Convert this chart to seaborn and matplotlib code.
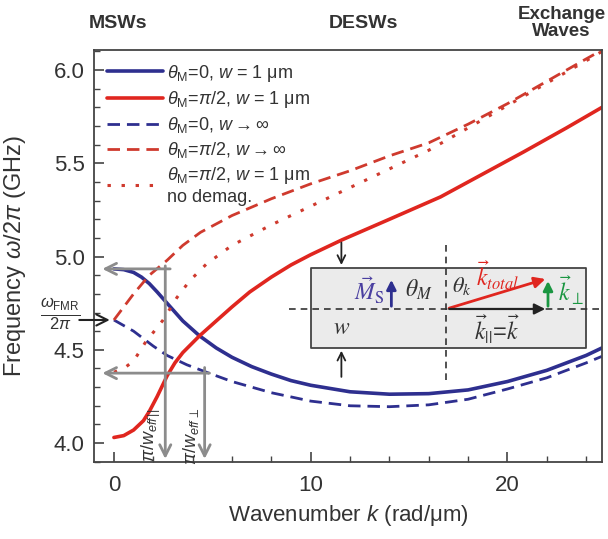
import numpy as np
import pandas as pd
import seaborn as sns
import matplotlib
matplotlib.use("Agg")
from matplotlib import pyplot as plt
from matplotlib.ticker import MultipleLocator

#### values (k in rad/um, f in GHz)
k_blue_w1 = [0, 0.5, 1, 1.4, 1.8, 2.2, 2.7, 3.5, 4.35, 5.2, 6, 7, 8, 9, 10, 12, 14, 16, 18, 20, 22, 24, 24.8]
f_blue_w1 = [4.934, 4.93, 4.915, 4.89, 4.855, 4.81, 4.75, 4.655, 4.575, 4.51, 4.46, 4.41, 4.37,
             4.335, 4.31, 4.275, 4.262, 4.265, 4.285, 4.33, 4.39, 4.47, 4.51]

k_blue_inf = [0, 1, 2, 2.7, 3.7, 4.7, 6, 7, 8, 10, 12, 14, 16, 18, 20, 22, 24, 24.8]
f_blue_inf = [4.66, 4.60, 4.52, 4.47, 4.42, 4.38, 4.33, 4.30, 4.27, 4.225, 4.20, 4.195,
              4.205, 4.235, 4.29, 4.35, 4.43, 4.465]

k_red_w1 = [0, 0.5, 1, 1.5, 1.8, 2.2, 2.7, 3.1, 3.5, 4.35, 5.2, 6, 6.9, 8, 9, 10, 11.6, 14, 16.6, 18, 20.8, 23, 24.8]
f_red_w1 = [4.03, 4.04, 4.07, 4.12, 4.17, 4.25, 4.36, 4.43, 4.485, 4.575, 4.655, 4.73, 4.81, 4.89,
            4.955, 5.01, 5.09, 5.20, 5.32, 5.40, 5.56, 5.69, 5.80]

k_red_inf = [0, 0.5, 1, 1.8, 2.7, 3.5, 4.4, 6, 8, 10, 12, 14, 16, 18, 20, 22, 24, 24.8]
f_red_inf = [4.66, 4.73, 4.80, 4.90, 4.98, 5.06, 5.13, 5.22, 5.31, 5.39, 5.46, 5.54, 5.61,
             5.71, 5.82, 5.94, 6.06, 6.107]

k_red_nodemag = [0, 0.5, 1, 1.6, 2.5, 3.2, 3.85, 4.7, 6, 8, 10, 12, 14, 16, 18, 20, 22, 24, 24.8]
f_red_nodemag = [4.38, 4.40, 4.44, 4.54, 4.66, 4.78, 4.87, 4.96, 5.06, 5.17, 5.27, 5.37, 5.47,
                 5.57, 5.69, 5.81, 5.93, 6.05, 6.10]

labels = [r"$\theta_\mathrm{M}$=0, $w$ = 1 μm",
          r"$\theta_\mathrm{M}$=$\pi$/2, $w$ = 1 μm",
          r"$\theta_\mathrm{M}$=0, $w\rightarrow\infty$",
          r"$\theta_\mathrm{M}$=$\pi$/2, $w\rightarrow\infty$",
          r"$\theta_\mathrm{M}$=$\pi$/2, $w$ = 1 μm" + "\nno demag."]

f_fmr = 4.66
f_top = 4.934
f_bot = 4.375

sns.set_theme(style="ticks")
plt.rcParams['font.family'] = ['Liberation Sans', 'DejaVu Sans']
plt.rcParams['mathtext.fontset'] = 'custom'
plt.rcParams['mathtext.rm'] = 'Liberation Sans'
plt.rcParams['mathtext.it'] = 'Liberation Sans:italic'

navy = "#2e2f8f"
red = "#e0261f"
red2 = "#cf3a2e"
gray = "#8c8c8c"
txt = "#333333"

fig = plt.figure(figsize=(6.08, 5.39), dpi=100)
ax = fig.add_axes([0.155, 0.142, 0.835, 0.765])

sns.lineplot(x=k_blue_w1, y=f_blue_w1, ax=ax, color=navy, lw=2.6, label=labels[0])
sns.lineplot(x=k_red_w1, y=f_red_w1, ax=ax, color=red, lw=2.6, label=labels[1])
sns.lineplot(x=k_blue_inf, y=f_blue_inf, ax=ax, color=navy, lw=2.0, ls=(0, (4.5, 2.5)), label=labels[2])
sns.lineplot(x=k_red_inf, y=f_red_inf, ax=ax, color=red2, lw=2.0, ls=(0, (4.5, 2.5)), label=labels[3])
sns.lineplot(x=k_red_nodemag, y=f_red_nodemag, ax=ax, color=red2, lw=2.2, ls=(0, (1.1, 3.5)), label=labels[4])

ax.set_xlim(-1.0, 24.8)
ax.set_ylim(3.896, 6.107)
ax.xaxis.set_major_locator(MultipleLocator(10))
ax.xaxis.set_minor_locator(MultipleLocator(2))
ax.yaxis.set_major_locator(MultipleLocator(0.5))
ax.yaxis.set_minor_locator(MultipleLocator(0.1))
ax.tick_params(which='both', direction='in', colors='#444444', labelcolor=txt, labelsize=16)
ax.tick_params(axis='x', which='both', pad=9)
ax.tick_params(axis='y', which='both', pad=7)
ax.tick_params(which='major', length=7, width=1.2)
ax.tick_params(which='minor', length=4, width=1.0)
for s in ax.spines.values():
    s.set_color('#444444')
    s.set_linewidth(1.3)

ax.set_xlabel(r"Wavenumber $k$ (rad/μm)", fontsize=16, color=txt, labelpad=5)
ax.set_ylabel(r"Frequency $\omega$/2$\pi$ (GHz)", fontsize=17, color=txt)
ax.yaxis.set_label_coords(-0.13, 0.5)

leg = ax.legend(loc='upper left', frameon=False, fontsize=13, handlelength=3.1,
                handletextpad=0.25, labelspacing=0.28, borderaxespad=0.3)
for t in leg.get_texts():
    t.set_color(txt)

#### region labels above the plot
fig.text(0.194, 0.957, "MSWs", ha='center', va='center', fontsize=14, fontweight='bold', color=txt)
fig.text(0.597, 0.957, "DESWs", ha='center', va='center', fontsize=14, fontweight='bold', color=txt)
fig.text(0.996, 0.958, "Exchange\nWaves", ha='right', va='center', fontsize=13.5,
         fontweight='bold', color=txt, linespacing=1.0, multialignment='center')

#### grey construction arrows
arr = dict(arrowstyle='->', color=gray, lw=2, mutation_scale=20)
ax.annotate("", xy=(-0.73, f_top), xytext=(3.0, f_top), arrowprops=arr)
ax.annotate("", xy=(-0.73, f_bot), xytext=(5.0, f_bot), arrowprops=arr)
ax.annotate("", xy=(2.61, 3.90), xytext=(2.61, 4.965), arrowprops=arr, annotation_clip=False)
ax.annotate("", xy=(4.61, 3.90), xytext=(4.61, 4.42), arrowprops=arr, annotation_clip=False)
ax.text(1.9, 4.04, r"$\pi/w_{eff\,||}$", rotation=90, ha='center', va='center', fontsize=13, color=txt)
ax.text(3.9, 4.04, r"$\pi/w_{eff\,\perp}$", rotation=90, ha='center', va='center', fontsize=13, color=txt)

ax.annotate("", xy=(-0.07, f_fmr), xytext=(-1.9, f_fmr),
            arrowprops=dict(arrowstyle='->', color='#222222', lw=1.5, mutation_scale=20),
            annotation_clip=False)
ax.text(-2.75, 4.69, r"$\frac{\omega_\mathrm{FMR}}{2\pi}$", ha='center', va='center',
        fontsize=17, color=txt, clip_on=False)

#### inset sketch of the waveguide
ax.fill_between([10.0, 24.0], 4.51, 4.937, facecolor='#ebebeb', edgecolor='#444444', lw=1.3, zorder=3)
ax.plot([8.9, 24.8], [4.719, 4.719], color='#333333', lw=1.2, ls=(0, (4, 3)), zorder=4)
ax.plot([16.9, 16.9], [4.34, 5.09], color='#333333', lw=1.2, ls=(0, (4, 3)), zorder=4)
blk = dict(arrowstyle='->', color='#222222', lw=1.3, mutation_scale=14)
ax.annotate("", xy=(11.56, 4.94), xytext=(11.56, 5.09), arrowprops=blk)
ax.annotate("", xy=(11.56, 4.51), xytext=(11.56, 4.34), arrowprops=blk)
ax.annotate("", xy=(14.1, 4.89), xytext=(14.1, 4.719), zorder=5,
            arrowprops=dict(arrowstyle='-|>', color=navy, lw=2, mutation_scale=14))
ax.annotate("", xy=(22.06, 4.884), xytext=(16.9, 4.719), zorder=5,
            arrowprops=dict(arrowstyle='-|>', color=red, lw=2, mutation_scale=16))
ax.annotate("", xy=(22.06, 4.719), xytext=(16.9, 4.719), zorder=5,
            arrowprops=dict(arrowstyle='-|>', color='#222222', lw=1.6, mutation_scale=16))
ax.annotate("", xy=(22.06, 4.884), xytext=(22.06, 4.719), zorder=5,
            arrowprops=dict(arrowstyle='-|>', color='#1a9641', lw=2, mutation_scale=14))
serif = dict(math_fontfamily='stix', ha='center', va='center', zorder=6)
ax.text(13.0, 4.82, r"$\vec{M}_\mathrm{S}$", color='#4a3fa0', fontsize=17, **serif)
ax.text(15.5, 4.82, r"$\theta_M$", color=txt, fontsize=17, **serif)
ax.text(17.7, 4.84, r"$\theta_k$", color=txt, fontsize=16, **serif)
ax.text(19.5, 4.90, r"$\vec{k}_{total}$", color=red, fontsize=17, **serif)
ax.text(19.5, 4.61, r"$\vec{k}_{||}$=$\vec{k}$", color=txt, fontsize=17, **serif)
ax.text(23.2, 4.82, r"$\vec{k}_\perp$", color='#1a9641', fontsize=17, **serif)
ax.text(11.56, 4.616, r"$w$", color=txt, fontsize=17, **serif)

fig.savefig("out.png", dpi=100)
